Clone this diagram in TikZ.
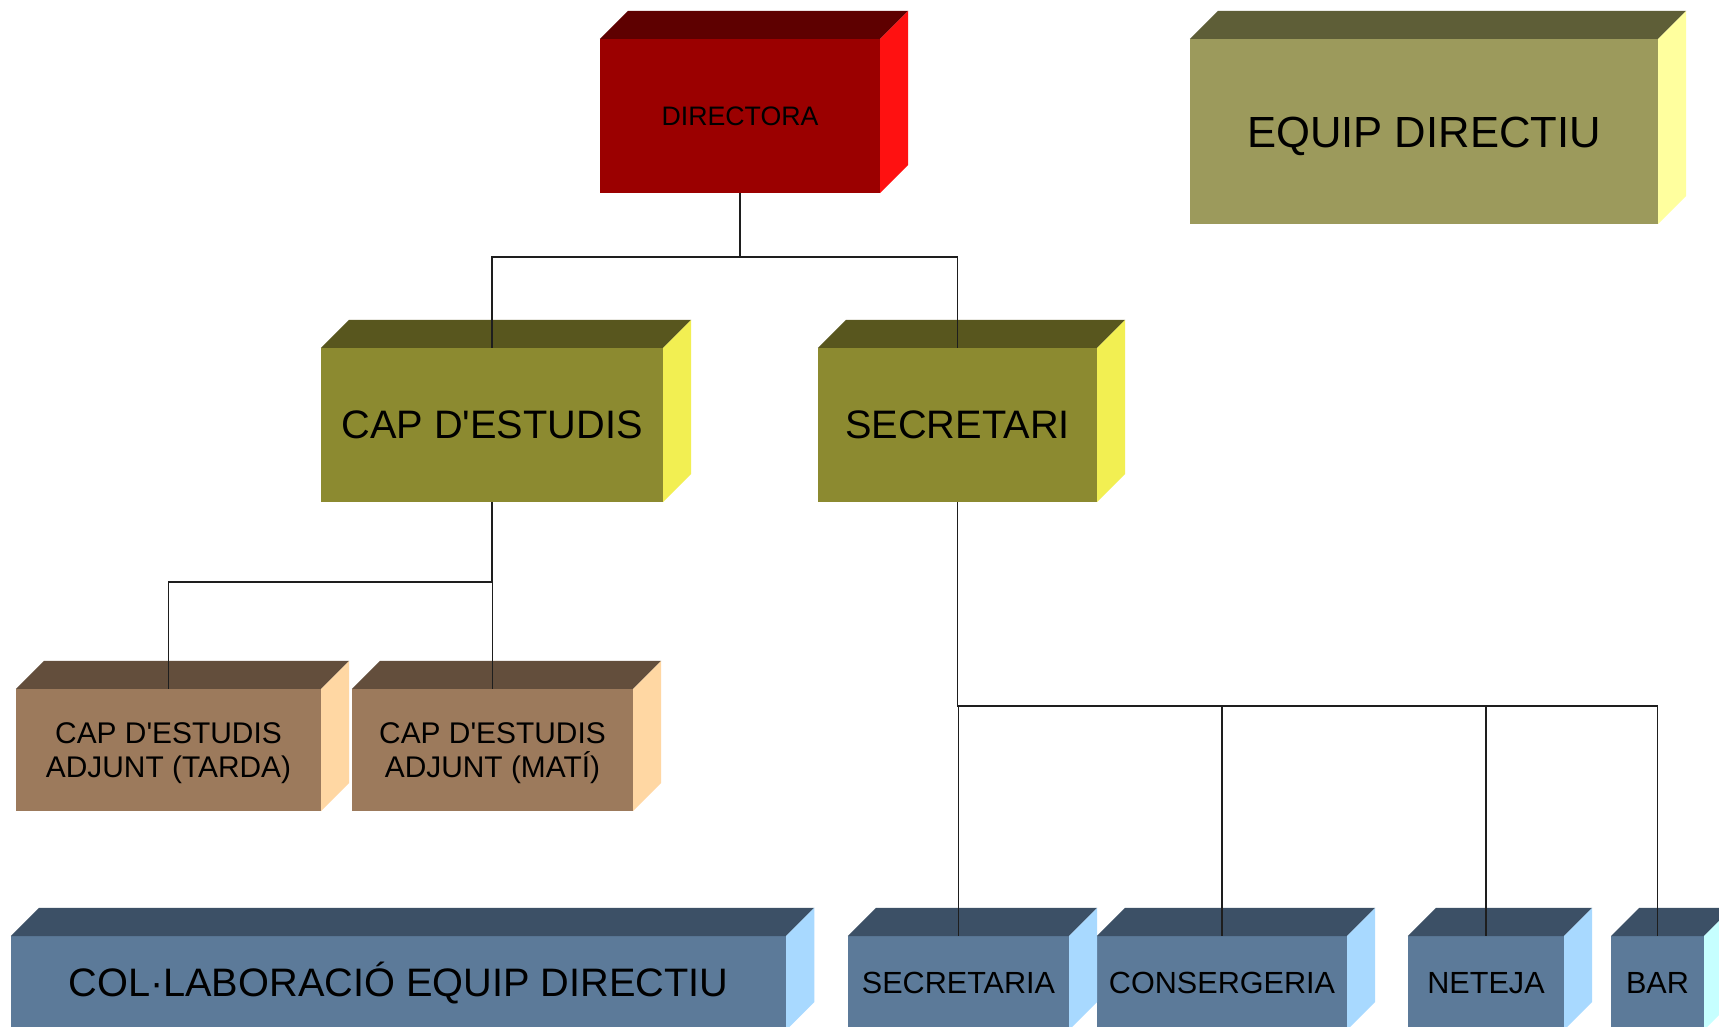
\documentclass[tikz,border=0pt]{standalone}
\usepackage{fontspec}
\newfontfamily\orgfont{Liberation Sans}
\usepackage{xcolor}
\usepackage{tikz}
\usetikzlibrary{positioning}
\definecolor{orgDirFront}{HTML}{9B0000}
\definecolor{orgDirTop}{HTML}{5E0000}
\definecolor{orgDirSide}{HTML}{FF1111}
\definecolor{orgTeamFront}{HTML}{9C9A5C}
\definecolor{orgTeamTop}{HTML}{5E5E37}
\definecolor{orgTeamSide}{HTML}{FFFF9E}
\definecolor{orgHeadFront}{HTML}{8C8A30}
\definecolor{orgHeadTop}{HTML}{58561E}
\definecolor{orgHeadSide}{HTML}{F2EF52}
\definecolor{orgAdjFront}{HTML}{9C7A5C}
\definecolor{orgAdjTop}{HTML}{634E3C}
\definecolor{orgAdjSide}{HTML}{FFD7A3}
\definecolor{orgStaffFront}{HTML}{5C7A99}
\definecolor{orgStaffTop}{HTML}{3C5066}
\definecolor{orgStaffSide}{HTML}{A8D9FF}
\definecolor{orgBarSide}{HTML}{C6FFFF}
\definecolor{orgLine}{HTML}{1E1E1E}
\tikzset{
  org chart/.style={x=0.01cm, y=-0.01cm, text=black},
  org box/.style={rectangle, inner sep=0pt, outer sep=0pt, align=center},
  org small/.style={org box, font=\orgfont\fontsize{7.6pt}{9pt}\selectfont},
  org mid/.style={org box, text depth=0pt, font=\orgfont\fontsize{8.5pt}{9.8pt}\selectfont},
  org staff/.style={org box, font=\orgfont\fontsize{8.7pt}{10pt}\selectfont},
  org large/.style={org box, font=\orgfont\fontsize{11.3pt}{13pt}\selectfont},
  org title/.style={org box, text height=0.315cm, text depth=0pt,
    font=\orgfont\fontsize{12.4pt}{14pt}\selectfont},
  org link/.style={draw=orgLine, line width=0.4pt}
}
% top and right faces of a block
\newcommand{\boxfaces}[3]{%
  \fill[#2] (#1.north west) -- ([shift={(0.28cm,0.28cm)}]#1.north west)
    -- ([shift={(0.28cm,0.28cm)}]#1.north east) -- (#1.north east) -- cycle;
  \fill[#3] (#1.north east) -- ([shift={(0.28cm,0.28cm)}]#1.north east)
    -- ([shift={(0.28cm,0.28cm)}]#1.south east) -- (#1.south east) -- cycle;
}

\begin{document}
\begin{tikzpicture}[org chart]
\clip (0,0) rectangle (1719,1026);
\fill[white] (0,0) rectangle (1719,1026);

\node[org small,fill=orgDirFront,minimum width=2.80cm,minimum height=1.54cm] (dir) at (740,116) {DIRECTORA};
\node[org title,fill=orgTeamFront,minimum width=4.68cm,minimum height=1.85cm] (team) at (1424,131.5) {EQUIP DIRECTIU};
\node[org large,fill=orgHeadFront,minimum width=3.42cm,minimum height=1.54cm] (cap) at (492,425) {CAP D'ESTUDIS};
\node[org large,fill=orgHeadFront,minimum width=2.79cm,minimum height=1.54cm] (secr) at (957.5,425) {SECRETARI};
\node[org mid,fill=orgAdjFront,minimum width=3.05cm,minimum height=1.22cm] (tarda) at (168.5,750) {CAP D'ESTUDIS\\ADJUNT (TARDA)};
\node[org mid,fill=orgAdjFront,minimum width=2.81cm,minimum height=1.22cm] (mati) at (492.5,750) {CAP D'ESTUDIS\\ADJUNT (MATÍ)};
\node[org large,fill=orgStaffFront,minimum width=7.75cm,minimum height=0.94cm] (colab) at (398.5,983) {COL·LABORACIÓ EQUIP DIRECTIU};
\node[org staff,fill=orgStaffFront,minimum width=2.21cm,minimum height=0.94cm] (secria) at (958.5,983) {SECRETARIA};
\node[org staff,fill=orgStaffFront,minimum width=2.50cm,minimum height=0.94cm] (consg) at (1222,983) {CONSERGERIA};
\node[org staff,fill=orgStaffFront,minimum width=1.56cm,minimum height=0.94cm] (neteja) at (1486,983) {NETEJA};
\node[org staff,fill=orgStaffFront,minimum width=0.93cm,minimum height=0.94cm] (bar) at (1657.5,983) {BAR};

\boxfaces{dir}{orgDirTop}{orgDirSide}
\boxfaces{team}{orgTeamTop}{orgTeamSide}
\boxfaces{cap}{orgHeadTop}{orgHeadSide}
\boxfaces{secr}{orgHeadTop}{orgHeadSide}
\boxfaces{tarda}{orgAdjTop}{orgAdjSide}
\boxfaces{mati}{orgAdjTop}{orgAdjSide}
\boxfaces{colab}{orgStaffTop}{orgStaffSide}
\boxfaces{secria}{orgStaffTop}{orgStaffSide}
\boxfaces{consg}{orgStaffTop}{orgStaffSide}
\boxfaces{neteja}{orgStaffTop}{orgStaffSide}
\boxfaces{bar}{orgStaffTop}{orgBarSide}

% connectors
\coordinate (dirbus) at (740,257);
\coordinate (capbus) at (492,582);
\coordinate (secbus) at (957.5,706);
\draw[org link] (dir.south) -- (dirbus) -| (cap.north);
\draw[org link] (dirbus) -| (secr.north);
\draw[org link] (cap.south) -- (capbus) -| (tarda.north);
\draw[org link] (capbus) -| (mati.north);
\draw[org link] (secr.south) -- (secbus) -| (bar.north);
\draw[org link] (secbus) -| (secria.north);
\draw[org link] (secbus) -| (consg.north);
\draw[org link] (secbus) -| (neteja.north);
\end{tikzpicture}
\end{document}
